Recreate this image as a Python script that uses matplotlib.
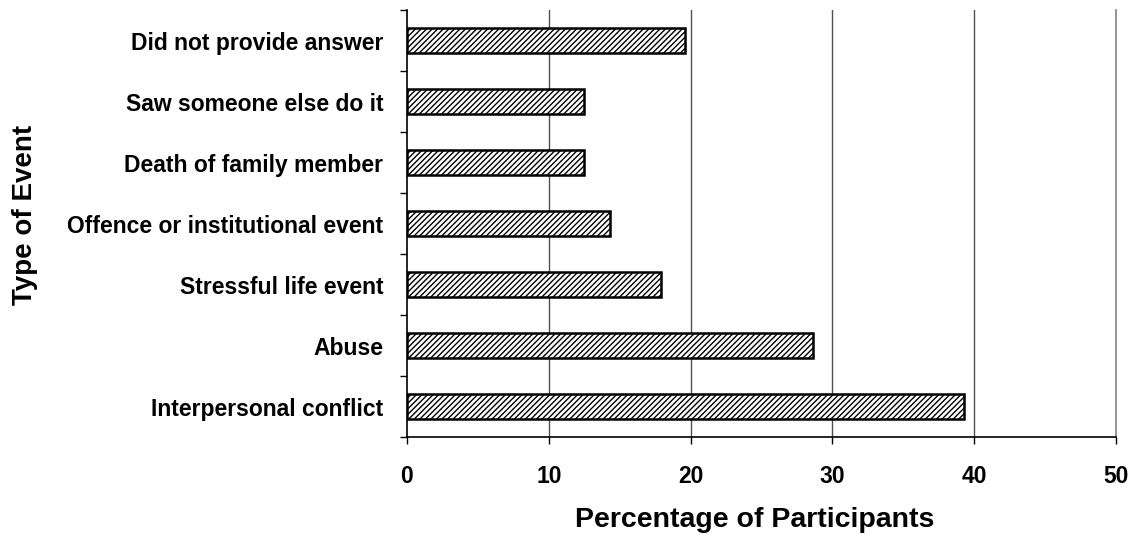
import matplotlib.pyplot as plt

# Catégories (du bas vers le haut) et pourcentages
categories = ['Interpersonal conflict', 'Abuse', 'Stressful life event',
              'Offence or institutional event', 'Death of family member',
              'Saw someone else do it', 'Did not provide answer']
pourcentages = [39.3, 28.6, 17.9, 14.3, 12.5, 12.5, 19.6]
x_ticks = [0, 10, 20, 30, 40, 50]

plt.rcParams['font.family'] = ['Liberation Sans', 'DejaVu Sans']
plt.rcParams['hatch.linewidth'] = 1.0

fig = plt.figure(figsize=(11.32, 5.34), dpi=100)
ax = fig.add_axes([0.3595, 0.1816, 0.6264, 0.7994])

pos = list(range(len(categories)))
ax.barh(pos, pourcentages, height=0.41, color='white', edgecolor='black',
        linewidth=1.8, hatch='//////', zorder=3)

# Axes et limites
ax.set_xlim(0, 50)
ax.set_ylim(-0.5, len(categories) - 0.5)
ax.set_xticks(x_ticks)
ax.set_xticklabels([str(v) for v in x_ticks], fontsize=16.5, fontweight='bold')

# Graduations de l'axe y entre les catégories, étiquettes au centre
ax.set_yticks([p - 0.5 for p in pos] + [len(categories) - 0.5])
ax.set_yticklabels([])
ax.set_yticks(pos, minor=True)
ax.set_yticklabels(categories, minor=True, fontsize=16.5, fontweight='bold')
ax.tick_params(axis='y', which='minor', length=0, pad=17)
ax.tick_params(axis='y', which='major', length=5, width=1, direction='out')
ax.tick_params(axis='x', length=5, width=1, direction='out', pad=15)

# Grille verticale
for v in x_ticks[1:-1]:
    ax.axvline(v, color='#505050', linewidth=1, zorder=1)

ax.spines['top'].set_visible(False)
ax.spines['right'].set_color('#808080')
ax.spines['right'].set_linewidth(1.2)
ax.spines['left'].set_linewidth(1.2)
ax.spines['bottom'].set_linewidth(1.2)

# Titres des axes
fig.text(0.6665, 0.026, 'Percentage of Participants', fontsize=20.5, fontweight='bold',
         ha='center', va='center')
fig.text(0.022, 0.597, 'Type of Event', rotation=90, fontsize=20, fontweight='bold',
         ha='center', va='center')

fig.savefig('out.png', dpi=100)
